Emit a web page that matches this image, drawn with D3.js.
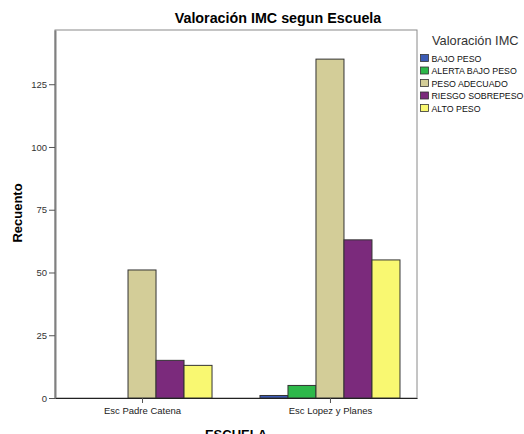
<!DOCTYPE html>
<html>
<head>
<meta charset="utf-8">
<script src="https://cdn.jsdelivr.net/npm/d3@7"></script>
<style>
  body { margin: 0; background: #fff; }
  svg { display: block; font-family: "Liberation Sans", Arial, sans-serif; }
</style>
</head>
<body>
<div id="chart"></div>
<script>
// data
var escuelas = ["Esc Padre Catena", "Esc Lopez y Planes"]
var categorias = ["BAJO PESO", "ALERTA BAJO PESO", "PESO ADECUADO", "RIESGO SOBREPESO", "ALTO PESO"]
var padreCatena = [0, 0, 51, 15, 13]
var lopezPlanes = [1, 5, 135, 63, 55]
var colores = ["#3b5bb5", "#2db84a", "#d3cd98", "#7b2a7c", "#f9f871"]
var yTicks = [0, 25, 50, 75, 100, 125]

var valores = [padreCatena, lopezPlanes]

var W = 524, H = 434
var margin = { top: 30, right: 107, bottom: 36, left: 55 },
    width = W - margin.left - margin.right,
    height = H - margin.top - margin.bottom

var svg = d3.select("#chart")
    .append("svg")
    .attr("width", W)
    .attr("height", H)

// title
svg.append("text")
    .attr("x", 278)
    .attr("y", 23)
    .attr("text-anchor", "middle")
    .style("font-size", "14.3px")
    .style("font-weight", "bold")
    .text("Valoración IMC segun Escuela")

var g = svg.append("g")
    .attr("transform", "translate(" + margin.left + "," + margin.top + ")")

var x = d3.scalePoint()
    .domain(escuelas)
    .range([0, width])
    .padding(0.463)

var xSub = d3.scaleBand()
    .domain(categorias)
    .range([-70, 70])

var y = d3.scaleLinear()
    .domain([0, 146.6])
    .range([height, 0])

// frame
g.append("rect")
    .attr("x", 0)
    .attr("y", 0)
    .attr("width", width)
    .attr("height", height)
    .attr("fill", "none")
    .attr("stroke", "#8a8a8a")
    .attr("stroke-width", 1)

// bars
escuelas.forEach(function (esc, i) {
    g.append("g")
        .selectAll("rect")
        .data(valores[i].map(function (v, j) { return { cat: categorias[j], v: v, c: colores[j] } })
            .filter(function (d) { return d.v > 0 }))
        .enter()
        .append("rect")
        .attr("x", function (d) { return x(esc) + xSub(d.cat) })
        .attr("y", function (d) { return y(d.v) })
        .attr("width", xSub.bandwidth())
        .attr("height", function (d) { return y(0) - y(d.v) })
        .attr("fill", function (d) { return d.c })
        .attr("stroke", "#333")
        .attr("stroke-width", 1)
})

// y axis
var yAxis = g.append("g")
    .call(d3.axisLeft(y).tickValues(yTicks).tickSize(6).tickSizeOuter(0).tickPadding(2))
yAxis.select(".domain").attr("stroke", "#808080").attr("stroke-width", 2)
yAxis.selectAll(".tick line").attr("stroke", "#555")
yAxis.selectAll(".tick text")
    .style("font-size", "9.5px")
    .attr("fill", "#333")
    .style("font-family", "Liberation Sans, Arial, sans-serif")

// x axis
var xAxis = g.append("g")
    .attr("transform", "translate(0," + height + ")")
    .call(d3.axisBottom(x).tickSize(5).tickSizeOuter(0).tickPadding(4))
xAxis.select(".domain").attr("stroke", "#222")
xAxis.selectAll(".tick line").attr("stroke", "#555")
xAxis.selectAll(".tick text")
    .style("font-size", "9.5px")
    .attr("fill", "#222")
    .style("font-family", "Liberation Sans, Arial, sans-serif")

// axis titles
svg.append("text")
    .attr("x", margin.left + width / 2)
    .attr("y", 439)
    .attr("text-anchor", "middle")
    .style("font-size", "13px")
    .style("font-weight", "bold")
    .text("ESCUELA")

svg.append("text")
    .attr("transform", "translate(22," + 213 + ") rotate(-90)")
    .attr("text-anchor", "middle")
    .style("font-size", "13px")
    .style("font-weight", "bold")
    .text("Recuento")

// legend
var legend = svg.append("g")

legend.append("text")
    .attr("x", 432)
    .attr("y", 45)
    .style("font-size", "12.8px")
    .attr("fill", "#333")
    .text("Valoración IMC")

var item = legend.selectAll(".item")
    .data(categorias)
    .enter()
    .append("g")
    .attr("transform", function (d, i) { return "translate(420.5," + (54.5 + i * 12.5) + ")" })

item.append("rect")
    .attr("width", 8)
    .attr("height", 7)
    .attr("fill", function (d, i) { return colores[i] })
    .attr("stroke", "#333")
    .attr("stroke-width", 0.8)

item.append("text")
    .attr("x", 11)
    .attr("y", 7.3)
    .style("font-size", "8.8px")
    .attr("fill", "#111")
    .text(function (d) { return d })
</script>
</body>
</html>
